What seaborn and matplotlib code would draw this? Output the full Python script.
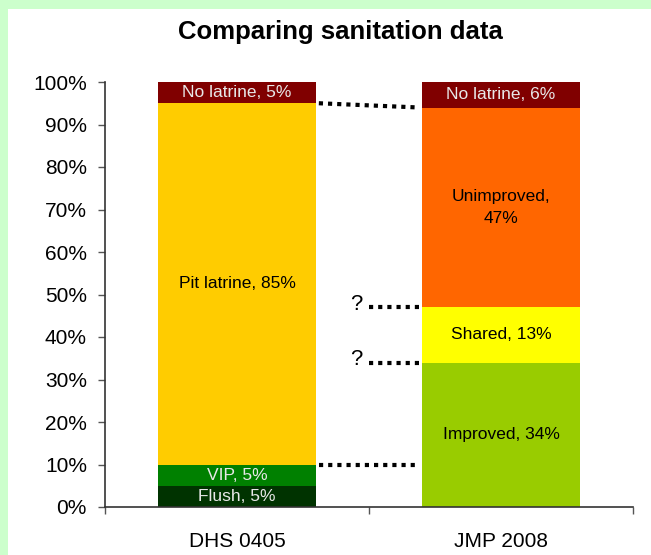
import matplotlib
matplotlib.use("Agg")
import matplotlib.pyplot as plt
import seaborn as sns
import pandas as pd
from matplotlib.patches import Rectangle
from matplotlib.ticker import FixedLocator

# ---- data ----
sources = ["DHS 0405", "JMP 2008"]
dhs_categories = ["Flush", "VIP", "Pit latrine", "No latrine"]
dhs_values = [5, 5, 85, 5]
jmp_categories = ["Improved", "Shared", "Unimproved", "No latrine"]
jmp_values = [34, 13, 47, 6]
dhs_colors = ["#003300", "#008000", "#FFCC00", "#800000"]
jmp_colors = ["#99CC00", "#FFFF00", "#FF6600", "#800000"]
dhs_labels = ["Flush, 5%", "VIP, 5%", "Pit latrine, 85%", "No latrine, 5%"]
jmp_labels = ["Improved, 34%", "Shared, 13%", "Unimproved,\n47%", "No latrine, 6%"]
ytick_values = list(range(0, 101, 10))

sns.set_theme(style="white")
plt.rcParams["font.family"] = ["Liberation Sans", "DejaVu Sans"]
plt.rcParams["text.color"] = "black"
plt.rcParams["xtick.color"] = "black"
plt.rcParams["ytick.color"] = "black"

rows = []
for src, cats, vals, cols, labs in [
    (sources[0], dhs_categories, dhs_values, dhs_colors, dhs_labels),
    (sources[1], jmp_categories, jmp_values, jmp_colors, jmp_labels),
]:
    bottom = 0
    for c, v, col, lab in zip(cats, vals, cols, labs):
        rows.append(dict(source=src, category=c, value=v, bottom=bottom,
                         top=bottom + v, color=col, label=lab))
        bottom += v
df = pd.DataFrame(rows)

fig = plt.figure(figsize=(6.51, 5.55), dpi=100)
fig.patch.set_facecolor("#CCFFCC")
fig.patches.append(Rectangle((8 / 651, 0), 1, 1 - 9 / 555, transform=fig.transFigure,
                             facecolor="white", edgecolor="none", zorder=-10))
ax = fig.add_axes([105 / 651, 48 / 555, 528 / 651, 425 / 555])
ax.set_facecolor("none")

# draw stacked segments: tallest cumulative first
for _, r in df.sort_values("top", ascending=False).iterrows():
    sns.barplot(data=pd.DataFrame([r]), x="source", y="top", order=sources,
                color=r["color"], width=0.6, saturation=1, ax=ax, linewidth=0)

dark = {"#003300", "#008000", "#800000"}
for _, r in df.iterrows():
    xi = sources.index(r["source"])
    ax.text(xi, (r["bottom"] + r["top"]) / 2, r["label"], ha="center", va="center",
            fontsize=12.5, color="#E8E8E8" if r["color"] in dark else "black",
            linespacing=1.6)

# connecting dotted lines
dhs = df[df.source == sources[0]].set_index("category")
jmp = df[df.source == sources[1]].set_index("category")
ls = dict(color="black", linestyle=(0, (1, 1.2)), linewidth=3)
ax.plot([0.31, 1 - 0.31], [dhs.loc["Pit latrine", "top"], jmp.loc["Unimproved", "top"]], **ls)
y_vip = dhs.loc["VIP", "top"]
ax.plot([0.31, 1 - 0.31], [y_vip, y_vip], **ls)
for key in ["Shared", "Improved"]:
    y = jmp.loc[key, "top"]
    ax.plot([0.5, 1 - 0.31], [y, y], **ls)
    ax.text(0.45, y - 0.6, "?", ha="center", va="baseline", fontsize=16)

ax.set_xlim(-0.5, 1.5)
ax.set_ylim(0, 100)
ax.set_yticks(ytick_values)
ax.set_yticklabels([f"{v}%" for v in ytick_values], fontsize=15)
ax.set_xticks([0, 1])
ax.set_xticklabels(sources, fontsize=15)
ax.xaxis.set_minor_locator(FixedLocator([-0.5, 0.5, 1.5]))
ax.tick_params(axis="x", which="major", length=0, pad=18)
ax.tick_params(axis="x", which="minor", length=5, width=1, color="#555555", direction="out", bottom=True)
ax.tick_params(axis="y", length=5, width=1, color="#555555", direction="out", left=True, pad=8)
ax.set_xlabel("")
ax.set_ylabel("")
for s in ["top", "right"]:
    ax.spines[s].set_visible(False)
for s in ["left", "bottom"]:
    ax.spines[s].set_color("#333333")
    ax.spines[s].set_linewidth(1.2)

fig.text(340 / 651, 1 - 32 / 555, "Comparing sanitation data", ha="center", va="center",
         fontsize=18.5, fontweight="bold", color="black")

fig.savefig("out.png", dpi=100, facecolor=fig.get_facecolor())
